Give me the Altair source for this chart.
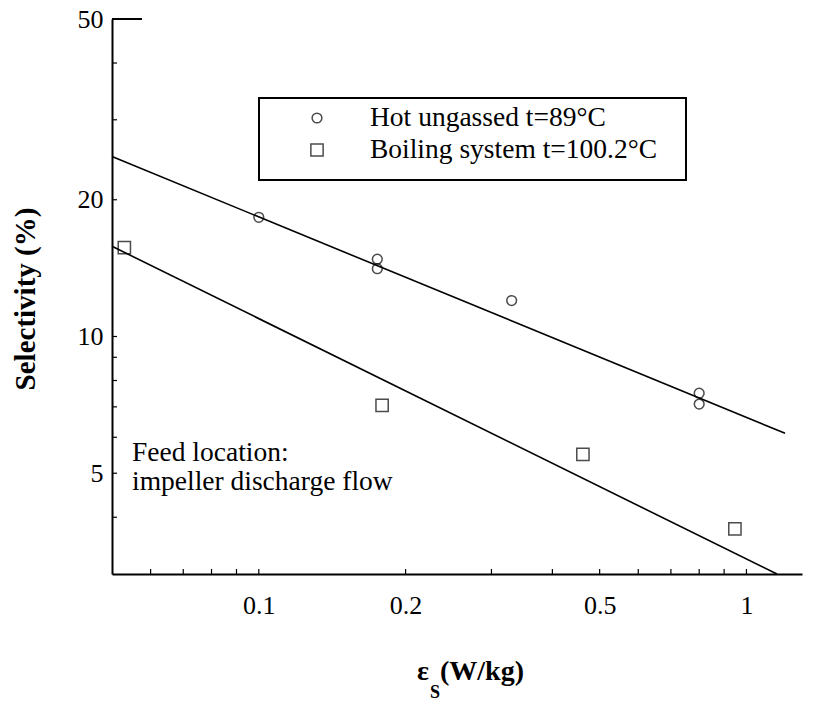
import altair as alt
import pandas as pd

# ---- data ----
hot_x = [0.1, 0.175, 0.175, 0.33, 0.8, 0.8]
hot_y = [18.3, 14.8, 14.1, 12.0, 7.5, 7.1]
boil_x = [0.053, 0.179, 0.462, 0.947]
boil_y = [15.7, 7.05, 5.5, 3.77]
hot_fit_x = [0.05, 1.2]
hot_fit_y = [24.9, 6.12]
boil_fit_x = [0.05, 1.155]
boil_fit_y = [15.8, 3.0]
x_tick_labels = [0.1, 0.2, 0.5, 1]
y_tick_labels = [5, 10, 20, 50]
x_minor = [0.06, 0.07, 0.08, 0.09, 0.1, 0.2, 0.3, 0.4, 0.5, 0.6, 0.7, 0.8, 0.9, 1.0]
y_minor = [4, 5, 6, 7, 8, 9, 10, 20, 30, 40]
legend_labels = ["Hot ungassed t=89°C", "Boiling system t=100.2°C"]
note_lines = ["Feed location:", "impeller discharge flow"]
y_title = "Selectivity (%)"
x_title_parts = ["ε", "S", "(W/kg)"]

W, H = 690, 555
FONT = "Liberation Serif"

xs = alt.Scale(type="log", domain=[0.05, 1.3], nice=False)
ys = alt.Scale(type="log", domain=[3, 50], nice=False)

hot = pd.DataFrame({"x": hot_x, "y": hot_y})
boil = pd.DataFrame({"x": boil_x, "y": boil_y})
hfit = pd.DataFrame({"x": hot_fit_x, "y": hot_fit_y})
bfit = pd.DataFrame({"x": boil_fit_x, "y": boil_fit_y})

xax = alt.Axis(values=x_tick_labels, format="~g", ticks=False, grid=False, title=None,
               labelFont=FONT, labelFontSize=26, labelColor="black", labelPadding=18,
               domainColor="black", domainWidth=2)
yax = alt.Axis(values=y_tick_labels, format="~g", ticks=False, grid=False, title=None,
               labelFont=FONT, labelFontSize=26, labelColor="black", labelPadding=9,
               domainColor="black", domainWidth=2)

hot_pts = alt.Chart(hot).mark_point(shape="circle", filled=False, color="black", size=95, strokeWidth=1.5).encode(
    x=alt.X("x:Q", scale=xs, axis=xax), y=alt.Y("y:Q", scale=ys, axis=yax))
boil_pts = alt.Chart(boil).mark_point(shape="square", filled=False, color="black", size=150, strokeWidth=1.5).encode(
    x=alt.X("x:Q", scale=xs), y=alt.Y("y:Q", scale=ys))
hot_line = alt.Chart(hfit).mark_line(color="black", strokeWidth=1.6).encode(
    x=alt.X("x:Q", scale=xs), y=alt.Y("y:Q", scale=ys))
boil_line = alt.Chart(bfit).mark_line(color="black", strokeWidth=1.6).encode(
    x=alt.X("x:Q", scale=xs), y=alt.Y("y:Q", scale=ys))

xt = alt.Chart(pd.DataFrame({"x": x_minor})).mark_rule(color="black", strokeWidth=1.2).encode(
    x=alt.X("x:Q", scale=xs), y=alt.value(H), y2=alt.value(H - 5))
yt = alt.Chart(pd.DataFrame({"y": y_minor})).mark_rule(color="black", strokeWidth=1.2).encode(
    y=alt.Y("y:Q", scale=ys), x=alt.value(0), x2=alt.value(5))
top_seg = alt.Chart(pd.DataFrame({"y": [50]})).mark_rule(color="black", strokeWidth=2).encode(
    y=alt.Y("y:Q", scale=ys), x=alt.value(0), x2=alt.value(30))

# legend box
one = pd.DataFrame({"a": [0]})
box = alt.Chart(one).mark_rect(fill=None, stroke="black", strokeWidth=2).encode(
    x=alt.value(147), x2=alt.value(574), y=alt.value(79), y2=alt.value(161))
leg_c = alt.Chart(one).mark_point(shape="circle", filled=False, color="black", size=95, strokeWidth=1.5).encode(
    x=alt.value(205), y=alt.value(99))
leg_s = alt.Chart(one).mark_point(shape="square", filled=False, color="black", size=150, strokeWidth=1.5).encode(
    x=alt.value(205), y=alt.value(131))
leg_t1 = alt.Chart(pd.DataFrame({"t": [legend_labels[0]]})).mark_text(
    font=FONT, fontSize=27.5, align="left", baseline="middle", color="black").encode(
    text="t:N", x=alt.value(258), y=alt.value(99))
leg_t2 = alt.Chart(pd.DataFrame({"t": [legend_labels[1]]})).mark_text(
    font=FONT, fontSize=27.5, align="left", baseline="middle", color="black").encode(
    text="t:N", x=alt.value(258), y=alt.value(131))

note1 = alt.Chart(pd.DataFrame({"t": [note_lines[0]]})).mark_text(
    font=FONT, fontSize=27.5, align="left", baseline="middle", color="black").encode(
    text="t:N", x=alt.value(20), y=alt.value(434))
note2 = alt.Chart(pd.DataFrame({"t": [note_lines[1]]})).mark_text(
    font=FONT, fontSize=27.5, align="left", baseline="middle", color="black").encode(
    text="t:N", x=alt.value(20), y=alt.value(463))

ytitle = alt.Chart(pd.DataFrame({"t": [y_title]})).mark_text(
    font=FONT, fontSize=29, fontWeight="bold", angle=270, align="center", baseline="middle", color="black").encode(
    text="t:N", x=alt.value(-86), y=alt.value(280))
xt1 = alt.Chart(pd.DataFrame({"t": [x_title_parts[0]]})).mark_text(
    font=FONT, fontSize=28, fontWeight="bold", align="left", baseline="middle", color="black").encode(
    text="t:N", x=alt.value(305), y=alt.value(653))
xt2 = alt.Chart(pd.DataFrame({"t": [x_title_parts[1]]})).mark_text(
    font=FONT, fontSize=18, fontWeight="bold", align="left", baseline="middle", color="black").encode(
    text="t:N", x=alt.value(318), y=alt.value(674))
xt3 = alt.Chart(pd.DataFrame({"t": [x_title_parts[2]]})).mark_text(
    font=FONT, fontSize=28, fontWeight="bold", align="left", baseline="middle", color="black").encode(
    text="t:N", x=alt.value(328), y=alt.value(653))

chart = alt.layer(
    hot_pts, boil_pts, hot_line, boil_line, xt, yt, top_seg,
    box, leg_c, leg_s, leg_t1, leg_t2, note1, note2, ytitle, xt1, xt2, xt3
).properties(
    width=W, height=H,
    autosize=alt.AutoSizeParams(type="none"),
    padding={"left": 104, "top": 11, "right": 10, "bottom": 128},
    background="white",
).configure_view(stroke=None)

chart.save("out.html", embed_options={"renderer": "svg", "actions": False})
